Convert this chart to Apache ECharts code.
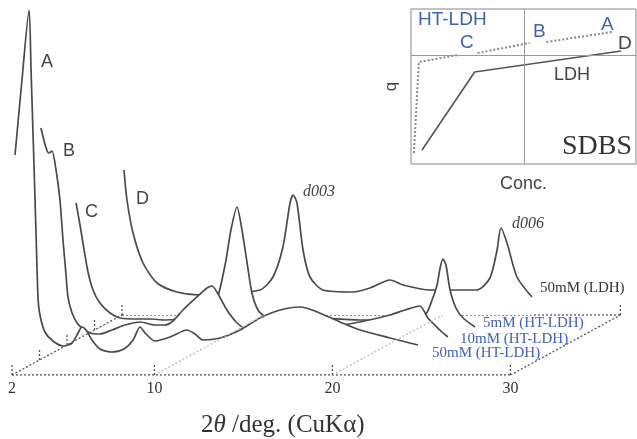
<!DOCTYPE html>
<html>
<head>
<meta charset="utf-8">
<script src="https://cdn.jsdelivr.net/npm/echarts@6/dist/echarts.min.js"></script>
<style>
  html, body { margin: 0; padding: 0; background: #fff; }
  #chart { width: 637px; height: 439px; }
</style>
</head>
<body>
<div id="chart"></div>
<script>
// ============================================================================
// Data (2theta in deg, intensity in arbitrary units)
// ============================================================================

// A: 50mM (HT-LDH), front
const aTheta = [2.17, 2.56, 2.96, 3.07, 3.18, 3.35, 3.46, 3.57, 3.85, 4.30, 4.87, 5.37, 5.71, 5.93, 6.16, 6.49, 6.94, 7.62, 8.29, 8.80, 9.19, 9.53, 10.03, 10.88, 11.83, 12.28, 12.73, 13.69, 14.81, 15.93, 17.06, 18.18, 19.02, 20.43, 21.55, 23.24, 24.81]
const aInt   = [220, 295, 365, 305, 242, 142, 78, 60, 43, 34, 29, 32, 42, 48, 45, 35, 26, 23, 26, 35, 48, 41, 34, 38, 45, 41, 35, 37, 45, 57, 65, 68, 64, 53, 45, 37, 30]

// B: 10mM (HT-LDH)
const bTheta = [2.08, 2.37, 2.53, 2.70, 2.93, 3.15, 3.32, 3.49, 3.60, 3.83, 4.11, 4.39, 4.84, 5.40, 6.07, 6.80, 7.65, 8.49, 9.05, 9.50, 10.06, 10.84, 11.41, 11.69, 12.03, 12.53, 13.10, 13.54, 14.94, 16.63, 18.32, 20.00, 21.69, 22.53, 23.37, 23.82, 24.49, 24.94]
const bInt   = [232, 212, 207, 209, 190, 160, 120, 85, 63, 47, 37, 32, 27, 26, 30, 35, 38, 35, 35, 39, 50, 63, 72, 74, 66, 50, 37, 32, 29, 28, 33, 38, 45, 50, 54, 42, 30, 23]

// C: 5mM (HT-LDH)
const cTheta = [2.51, 2.73, 2.96, 3.18, 3.46, 3.85, 4.42, 4.98, 5.93, 6.66, 7.51, 8.35, 9.47, 10.31, 10.88, 11.21, 11.55, 11.83, 12.11, 12.39, 12.73, 13.12, 13.97, 16.21, 18.46, 20.71, 22.11, 22.51, 22.79, 22.96, 23.12, 23.29, 23.52, 23.85, 24.25, 24.92]
const cInt   = [142, 120, 95, 73, 55, 42, 32, 27, 26, 26, 25, 26, 29, 40, 80, 115, 138, 115, 83, 52, 35, 29, 29, 27, 25, 25, 30, 45, 60, 77, 86, 80, 55, 37, 27, 18]

// D: 50mM (LDH), back
const dTheta = [2.11, 2.28, 2.62, 3.18, 3.97, 5.09, 6.38, 7.34, 9.75, 10.48, 11.04, 11.44, 11.61, 11.83, 12.17, 12.56, 13.29, 14.98, 15.93, 17.06, 17.79, 19.30, 21.94, 22.67, 23.07, 23.29, 23.63, 24.19, 25.03]
const dInt   = [145, 115, 82, 52, 32, 23, 20, 21, 25, 38, 68, 112, 120, 112, 65, 38, 25, 23, 27, 35, 30, 25, 25, 37, 65, 87, 72, 38, 18]

const traceDepths = {A: 0, B: 1, C: 2, D: 4}
const xTicks = [2, 10, 20, 30]

// inset: q vs concentration (0-100 scale)
const ldhConc = [4.9, 28.3, 93.4]
const ldhQ    = [9.0, 59.4, 72.9]
const htConc1 = [1.3, 3.5, 20.8]
const htQ1    = [7.1, 65.8, 70.3]
const htConc2 = [29.6, 52.7]
const htQ2    = [71.6, 78.1]
const htConc3 = [60.2, 89.4]
const htQ3    = [78.7, 85.2]

// ============================================================================
// Helpers
// ============================================================================

const DX = 27.5 / 17.8   // depth step, in 2theta units
const DY = 15            // depth step, in intensity units
const LINE = '#4a4a4a'
const BLUE = '#3f63b5'
const SERIF = '"Liberation Serif", "DejaVu Serif", serif'
const SANS = '"Liberation Sans", Arial, sans-serif'

function project(theta, inten, depth) {
    return theta.map((t, i) => [t + depth * DX, inten[i] + depth * DY])
}

function traceSeries(theta, inten, depth, z) {
    return {
        type: 'line',
        data: project(theta, inten, depth),
        showSymbol: false,
        smooth: 0.25,
        z: z,
        lineStyle: {color: LINE, width: 1.7},
        areaStyle: {color: '#fff', opacity: 1, origin: depth * DY},
        silent: true,
    }
}

function frameSeries(pts, color, z) {
    // pts: [theta, intensity, depth]
    return {
        type: 'line',
        data: pts.map(p => [p[0] + p[2] * DX, p[1] + p[2] * DY]),
        showSymbol: false,
        z: z,
        lineStyle: {color: color, width: 1.3, type: [2, 2]},
        silent: true,
    }
}

function zip(a, b) {
    return a.map((v, i) => [v, b[i]])
}

// ============================================================================
// Build
// ============================================================================

const frame = [
    frameSeries([[2, 0, 4], [30, 0, 4]], '#555', 1),
    frameSeries([[2, 0, 0], [30, 0, 0]], '#555', 10),
    frameSeries([[2, 0, 0], [2, 0, 4]], '#555', 10),
    frameSeries([[30, 0, 0], [30, 0, 4]], '#555', 10),
    frameSeries([[10, 0, 0], [10, 0, 4]], '#bbb', 10),
    frameSeries([[20, 0, 0], [20, 0, 4]], '#bbb', 10),
    frameSeries([[30, 0, 4], [30, 12, 4]], '#555', 10),
]
xTicks.forEach(t => frame.push(frameSeries([[t, 0, 0], [t, 12, 0]], '#555', 10)))
;[1, 2, 3, 4].forEach(d => frame.push(frameSeries([[2, 0, d], [2, 12, d]], '#555', 10)))

const chart = echarts.init(document.getElementById('chart'))

function txt(text, x, y, size, color, family, extra) {
    return {
        type: 'text', left: x, top: y, z: 50,
        style: Object.assign({text: text, fontSize: size, fill: color, fontFamily: family}, extra || {}),
    }
}

const option = {
    animation: false,
    backgroundColor: '#fff',
    title: {
        text: '2{i|θ} /deg. (CuKα)',
        left: 196, top: 408,
        textStyle: {
            fontFamily: SERIF, fontSize: 25, fontWeight: 'normal', color: '#333',
            rich: {i: {fontFamily: SERIF, fontSize: 25, fontStyle: 'italic', color: '#333'}},
        },
    },
    grid: [
        {left: 12, top: 0, width: 623, height: 375},
        {left: 411, top: 9, width: 225, height: 155, show: true, borderColor: '#888', borderWidth: 1, backgroundColor: '#fff'},
    ],
    xAxis: [
        {
            type: 'value', min: 2, max: 37, gridIndex: 0,
            axisLine: {show: false}, axisTick: {show: false}, splitLine: {show: false},
            axisLabel: {customValues: xTicks, fontFamily: SERIF, fontSize: 16, color: '#333', margin: 6},
        },
        {
            type: 'value', min: 0, max: 100, gridIndex: 1,
            axisLine: {show: false}, axisTick: {show: false}, splitLine: {show: false}, axisLabel: {show: false},
            name: 'Conc.', nameLocation: 'middle', nameGap: 11,
            nameTextStyle: {fontFamily: SANS, fontSize: 18, color: '#444'},
        },
    ],
    yAxis: [
        {type: 'value', min: 0, max: 375, gridIndex: 0, show: false},
        {
            type: 'value', min: 0, max: 100, gridIndex: 1,
            axisLine: {show: false}, axisTick: {show: false}, splitLine: {show: false}, axisLabel: {show: false},
            name: 'q', nameLocation: 'middle', nameGap: 11, nameRotate: 90,
            nameTextStyle: {fontFamily: SANS, fontSize: 17, color: '#444'},
        },
    ],
    series: [
        ...frame,
        traceSeries(dTheta, dInt, traceDepths.D, 2),
        traceSeries(cTheta, cInt, traceDepths.C, 3),
        traceSeries(bTheta, bInt, traceDepths.B, 4),
        traceSeries(aTheta, aInt, traceDepths.A, 5),
        {
            type: 'line', xAxisIndex: 1, yAxisIndex: 1, data: zip(ldhConc, ldhQ),
            showSymbol: false, lineStyle: {color: '#555', width: 1.6}, silent: true,
            markLine: {
                symbol: 'none', silent: true, label: {show: false},
                lineStyle: {color: '#999', width: 1, type: 'solid'},
                data: [{xAxis: 50.4}, {yAxis: 70.3}],
            },
        },
        ...[zip(htConc1, htQ1), zip(htConc2, htQ2), zip(htConc3, htQ3)].map(seg => ({
            type: 'line', xAxisIndex: 1, yAxisIndex: 1, data: seg, showSymbol: false, silent: true,
            lineStyle: {color: '#888', width: 2, type: [2, 2]},
        })),
    ],
    graphic: [
        txt('A', 41, 53, 18, '#444', SANS),
        txt('B', 63, 142, 18, '#444', SANS),
        txt('C', 85, 203, 18, '#444', SANS),
        txt('D', 136, 190, 18, '#444', SANS),
        txt('d003', 303, 184, 16, '#444', SERIF, {fontStyle: 'italic'}),
        txt('d006', 512, 216, 16, '#444', SERIF, {fontStyle: 'italic'}),
        txt('50mM (LDH)', 540, 281, 15, '#333', SERIF),
        txt('5mM (HT-LDH)', 483, 316, 15, BLUE, SERIF),
        txt('10mM (HT-LDH)', 460, 332, 15, BLUE, SERIF),
        txt('50mM (HT-LDH)', 432, 346, 15, BLUE, SERIF),
        txt('HT-LDH', 418, 10, 19, BLUE, SANS),
        txt('C', 460, 33, 19, BLUE, SANS),
        txt('B', 533, 22, 19, BLUE, SANS),
        txt('A', 601, 15, 19, BLUE, SANS),
        txt('D', 618, 34, 19, '#444', SANS),
        txt('LDH', 554, 66, 18, '#444', SANS),
        txt('SDBS', 562, 133, 28, '#333', SERIF),
    ],
}
chart.setOption(option)
</script>
</body>
</html>
